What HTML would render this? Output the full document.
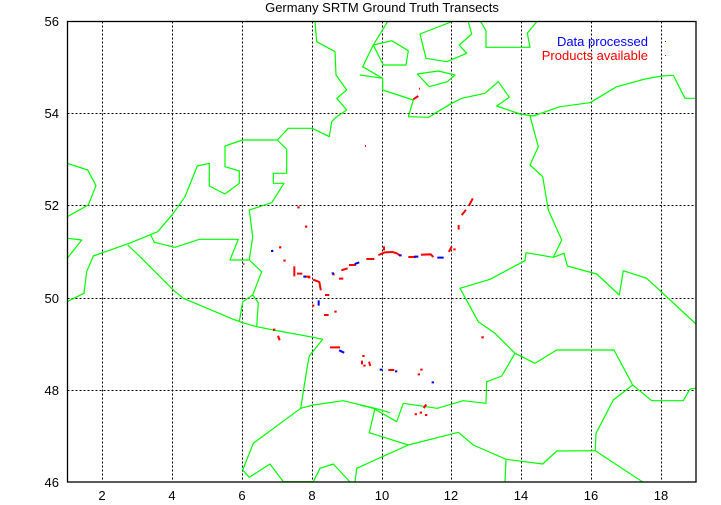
<!DOCTYPE html>
<html><head><meta charset="utf-8"><style>
html,body{margin:0;padding:0;background:#fff;}
svg{display:block;}
text{font-family:"Liberation Sans",sans-serif;font-size:13px;}
</style></head><body>
<svg width="721" height="505" viewBox="0 0 721 505" xmlns="http://www.w3.org/2000/svg">
<rect width="721" height="505" fill="#fff"/>
<text x="382" y="12" text-anchor="middle" fill="#000">Germany SRTM Ground Truth Transects</text>
<g stroke="#000" stroke-width="1" stroke-dasharray="2,2" fill="none">
<path d="M102.5 21.5V482M172.5 21.5V482M242.5 21.5V482M312.5 21.5V482M382.5 21.5V482M451.5 21.5V482M521.5 21.5V482M591.5 21.5V482M661.5 21.5V482"/>
<path d="M67.5 113.5H696M67.5 205.5H696M67.5 298.5H696M67.5 390.5H696"/>
</g>
<g fill="#000" text-anchor="end">
<text x="59" y="26">56</text><text x="59" y="118">54</text><text x="59" y="210">52</text>
<text x="59" y="303">50</text><text x="59" y="395">48</text><text x="59" y="487">46</text>
</g>
<g fill="#000" text-anchor="middle">
<text x="102" y="500">2</text><text x="172" y="500">4</text><text x="242" y="500">6</text>
<text x="312" y="500">8</text><text x="382" y="500">10</text><text x="451" y="500">12</text>
<text x="521" y="500">14</text><text x="591" y="500">16</text><text x="661" y="500">18</text>
</g>
<g stroke="#00ff00" stroke-width="1.2" fill="none" stroke-linejoin="round">
<polyline points="315,21.3 316.7,41.7 335,51.7 336,75 346.7,90 336.7,98.3 346.7,110 336.7,116.7 331.7,121.7 329.3,136.7 312.3,128.3 288.3,128.3 277.3,140 242.7,140 225,146 225,166.7 239.3,171 239.3,183.3 225,194 209.3,186 209.3,163.3 197.3,166 185,196.7 173.3,213.3 157.7,231.7 129.3,243.3 93.3,256 86.7,271.7 84,293.3 67,301.7"/>
<polyline points="277.3,140 286.7,149.3 286.7,173.3 273.3,173.3 273.3,183.3 284,183.3 271.7,202.7 249.3,210 252.7,236.7 249.3,260"/>
<polyline points="127.7,245 140,256.7 173.3,290 183.3,298.3 233.3,319.3 242.7,322.7 256.7,326.7 273.3,330 313.3,337.3 322.7,339.3 309.3,356 306.7,370 300.7,408.3 313.3,405 343.3,400.7 375,408.3 390,412.7"/>
<polyline points="150.7,235 154.3,242.3 175,247.3 199.3,239.3 238.3,239.3 230,260 249.3,260 261.7,271.7 252.7,295 242.7,301.7 239.3,321.7"/>
<polyline points="252.7,295 258.3,302.7 256.7,326.7"/>
<polyline points="67.3,238.3 81.7,240 67.3,258.3"/>
<polyline points="67.3,163.3 87.7,170 96,185.7 88.3,205 67.3,216.7"/>
<polyline points="300.7,408.3 253.3,443.3 242.7,470 249.3,477.3 270,464 283.3,481.7 313.3,481.7 320,468.3 333.3,464 350,482"/>
<polyline points="355,482 356.7,468.3 408.3,445 458.3,432.3 473.3,445 506,459.3 542.7,464 556.7,451 595.3,450.7 642.7,482"/>
<polyline points="506,459.3 505,482"/>
<polyline points="360,405 373.3,408.3 396.7,421.7 403.3,403.3 437.3,408.3 463.3,400.7 486,403.3 486.7,381.7 501.7,376 515,353.3 495,333.3 478.3,321.7 460,288.3 490,279.3 525,260.7 526,252.7 553.3,257.3 564,253.3 567.3,266 596.7,274 619.3,295 623.3,270.7 646.7,278.3 696,324"/>
<polyline points="375,408.3 369.3,432.7 408.3,445"/>
<polyline points="515,353.3 535,363.3 556.7,350 614,350 632.7,385 651.7,400.7 683.3,400.7 690,389 696,388.3"/>
<polyline points="632.7,385 613.3,400 596,433.3 595.3,450.7"/>
<polyline points="530,116 538.3,146.7 530,165 542.7,176.7 548.3,210 561.7,240 553.3,257.3"/>
<polyline points="408.3,116.7 428.3,117.3 451.7,103.3 461.7,98.3 485,93.3 498.3,81.7 509.3,97.3 496.7,106 520,114 533.3,116 560,106.7 590,102.7 616.7,86.7 645,79 661.7,76 673.3,75.3 685,98.3 696,98.3"/>
<polyline points="408.3,116.7 413.3,100 382.7,90 382.7,78.3 360,75"/>
<polyline points="382.7,78.3 362.7,66.7 373.3,45 387.5,21.7"/>
<polygon points="373.3,45 391.7,40.7 408.3,50.7 406,65 383.3,65"/>
<polyline points="451.7,21.7 420,34 426,58.3 446.7,61.7 466.7,53.3 459.3,45 471.7,34 468.3,21.7"/>
<polyline points="480.7,21.7 486,30.7 486,47.3 530,47.3 527.3,33.3 536.7,21.7"/>
<polygon points="417.3,74 438.3,71 455,75 447.3,81.7 429.3,86.7"/>
</g>
<rect x="67.5" y="21.5" width="628.5" height="460.5" fill="none" stroke="#000" stroke-width="1.3"/>
<g transform="translate(260,190) scale(0.3333)" fill="none" stroke-width="6" stroke-linecap="square">
<g stroke="#ff0000">
<path d="M628 45L637 28M607 73L616 62M596 108V116M568 183L574 172M583 178h1M486 194L512 193L518 199M448 201H465M358 194L375 187L398 186L410 190L418 195M372 172V178M322 207H340M270 225H285M247 240L260 236M240 266H247M220 253h1M162 270L178 276L182 298M147 262h1M114 251H124M103 232V256M73 212h1M60 172h1M138 110h1M115 52h1M198 315H205M159 347h1M195 375H203M226 365h1M42 419h1M55 440L58 448M213 472H237M310 498h1M306 515V520M313 527h1M328 518L330 525M388 540H400M484 539h1M476 553h1M493 652L497 646M482 668h1M467 673h1M498 675h1M667 442h1"/>
<path d="M135 260H148"/>
</g>
<g stroke="#0000ff">
<path d="M465 200H472M535 203H548M420 196h2M287 221L295 218M218 250h1M133 260h2M36 183h1M176 334V344M240 482L250 487M362 539h2M408 544h1M518 577h1"/>
</g>
</g>
<g fill="none" stroke-width="2">
<path stroke="#ff0000" d="M413.3 99.3L418.3 96M419 88.7h1M365 146h1M482.7 337.3h1M273.3 330h1M278.3 336.7L279.3 339.3M280 247.3h1M243.3 264h1M298.3 207.3h1M306 226.7h1"/>
<path stroke="#0000ff" d="M272 250.7h1"/>
</g>
<text x="648" y="46" text-anchor="end" fill="#0000ff">Data processed</text>
<text x="648" y="60" text-anchor="end" fill="#ff0000">Products available</text>
<rect x="665" y="41" width="1" height="1" fill="#0000ff"/>
<rect x="665" y="55" width="1" height="1" fill="#ff0000"/>
</svg>
</body></html>
